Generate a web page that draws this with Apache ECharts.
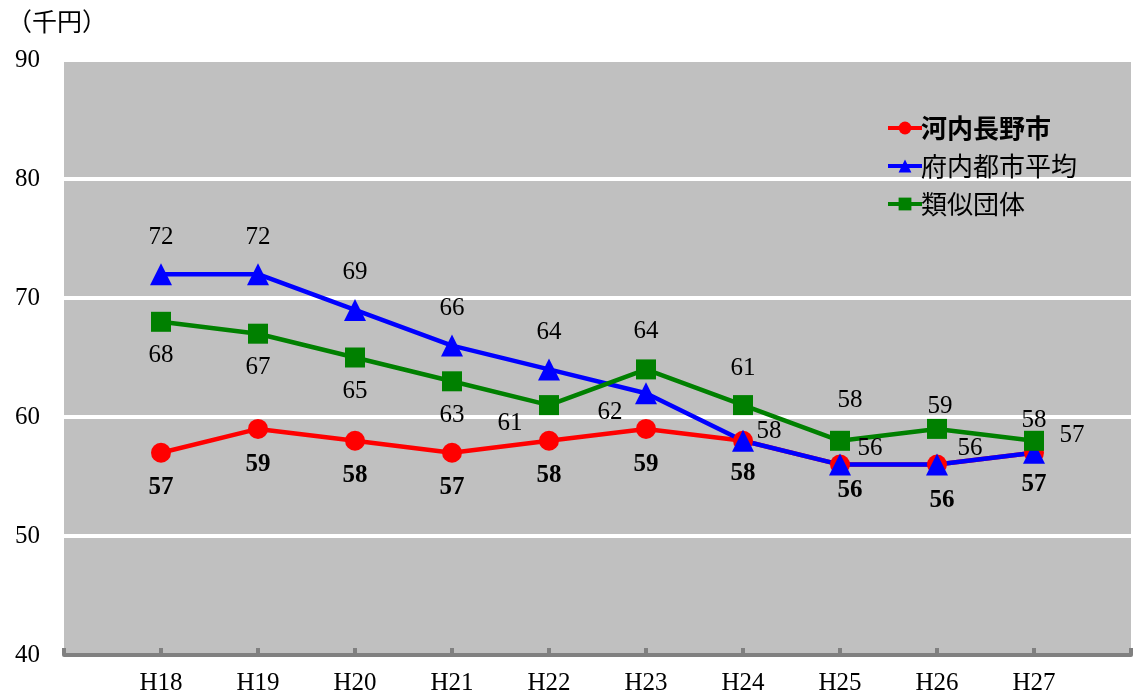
<!DOCTYPE html>
<html>
<head>
<meta charset="utf-8">
<script src="https://cdn.jsdelivr.net/npm/echarts@6/dist/echarts.min.js"></script>
<style>
html, body { margin: 0; padding: 0; background: #fff; }
#chart { width: 1134px; height: 696px; }
</style>
</head>
<body>
<div id="chart"></div>
<script>
const categories = ['H18', 'H19', 'H20', 'H21', 'H22', 'H23', 'H24', 'H25', 'H26', 'H27'];
const yTicks = [40, 50, 60, 70, 80, 90];
const seriesNames = ['河内長野市', '府内都市平均', '類似団体'];
const kawachinagano = [57, 59, 58, 57, 58, 59, 58, 56, 56, 57];
const fuAverage = [72, 72, 69, 66, 64, 62, 58, 56, 56, 57];
const similar = [68, 67, 65, 63, 61, 64, 61, 58, 59, 58];

// label offsets (px, relative to point)
const redOffsets = [[0, 35], [0, 36], [0, 35], [0, 35], [0, 35], [0, 36], [0, 33], [10, 26], [5, 36], [0, 32]];
const blueOffsets = [[0, -37], [0, -37], [0, -37], [0, -37], [0, -37], [-36, 19], [26, -9], [30, -16], [33, -16], [38, -17]];
const greenOffsets = [[0, 34], [0, 34], [0, 34], [0, 34], [-39, 18], [0, -38], [0, -37], [10, -40], [3, -22], [0, -20]];

const serif = '"Liberation Serif", "DejaVu Serif", serif';
const jp = '"Noto Sans CJK JP", sans-serif';

// blank slot on both ends so that H18..H27 sit on ticks
const axisData = [''].concat(categories, ['']);

function build(values, offsets) {
    const arr = [null];
    values.forEach((v, i) => {
        arr.push({
            value: v,
            label: { offset: offsets[i] }
        });
    });
    arr.push(null);
    return arr;
}

function lineSeries(name, values, offsets, color, symbol, size, bold) {
    return {
        name: name,
        type: 'line',
        data: build(values, offsets),
        symbol: symbol,
        symbolSize: size,
        showAllSymbol: true,
        itemStyle: { color: color },
        lineStyle: { color: color, width: 4.5 },
        label: {
            show: true,
            position: 'inside',
            align: 'center',
            verticalAlign: 'middle',
            color: '#000',
            fontFamily: serif,
            fontSize: 25,
            fontWeight: bold ? 'bold' : 'normal'
        },
        emphasis: { disabled: true },
        animation: false
    };
}

const chart = echarts.init(document.getElementById('chart'));
chart.setOption({
    backgroundColor: '#fff',
    title: {
        text: '（千円）',
        left: 2,
        top: 4,
        textStyle: { fontFamily: jp, fontSize: 25, fontWeight: 'normal', color: '#000' }
    },
    legend: {
        orient: 'vertical',
        left: 881,
        top: 110,
        itemWidth: 34,
        itemHeight: 16,
        itemGap: 12,
        lineStyle: { width: 4 },
        data: [
            { name: seriesNames[0], textStyle: { fontWeight: 'bold' } },
            { name: seriesNames[1] },
            { name: seriesNames[2] }
        ],
        textStyle: { fontFamily: jp, fontSize: 26, color: '#000', padding: [0, 0, 0, -6] }
    },
    grid: { left: 64, right: -2, top: 60, bottom: 41, show: true, backgroundColor: '#c0c0c0', borderWidth: 0 },
    xAxis: {
        type: 'category',
        data: axisData,
        boundaryGap: false,
        axisLine: { show: true, lineStyle: { color: '#808080', width: 4 } },
        axisTick: { show: true, inside: true, length: 7, alignWithLabel: true, lineStyle: { color: '#808080', width: 4 } },
        axisLabel: { color: '#000', fontFamily: serif, fontSize: 25, margin: 16, interval: 0 },
        splitLine: { show: false }
    },
    yAxis: {
        type: 'value',
        min: yTicks[0],
        max: yTicks[yTicks.length - 1],
        interval: yTicks[1] - yTicks[0],
        axisLine: { show: false },
        axisTick: { show: false },
        axisLabel: { color: '#000', fontFamily: serif, fontSize: 25, margin: 24 },
        splitLine: { show: true, lineStyle: { color: '#fff', width: 4 } }
    },
    series: [
        lineSeries(seriesNames[0], kawachinagano, redOffsets, '#ff0000', 'circle', 20, true),
        lineSeries(seriesNames[1], fuAverage, blueOffsets, '#0000ff', 'triangle', 22, false),
        lineSeries(seriesNames[2], similar, greenOffsets, '#008000', 'rect', 20, false)
    ]
});
</script>
</body>
</html>
